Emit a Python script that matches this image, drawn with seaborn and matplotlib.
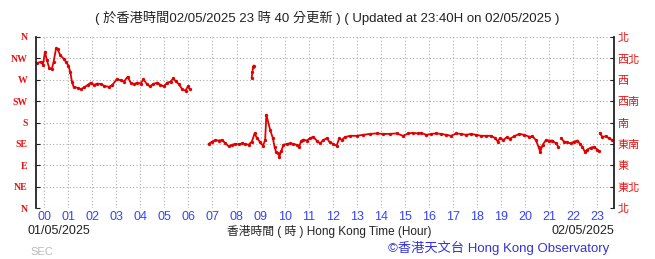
import matplotlib
matplotlib.use("Agg")
import matplotlib.pyplot as plt
import seaborn as sns
import pandas as pd
import numpy as np

# ---- data: hour of day (02/05/2025), wind direction (deg), segment id ----
hours = [
    -0.29, -0.12, -0.04, 0.04, 0.12, 0.22, 0.32, 0.40, 0.50, 0.57, 0.67, 0.82, 0.91,
    1.01, 1.09, 1.16, 1.23, 1.40, 1.53, 1.67, 1.81, 1.95, 2.08, 2.22, 2.36, 2.50,
    2.70, 2.84, 3.02, 3.19, 3.32, 3.47, 3.60, 3.74, 3.88, 4.02, 4.13, 4.26, 4.40,
    4.54, 4.71, 4.84, 4.98, 5.12, 5.26, 5.37, 5.47, 5.60, 5.74, 5.88, 5.98, 6.06,
]
degs = [
    305, 308, 302, 329, 311, 294, 292, 308, 336, 334, 322, 314, 308,
    300, 287, 266, 255, 253, 250, 254, 259, 264, 259, 262, 261, 257,
    255, 259, 271, 269, 266, 276, 264, 261, 264, 262, 271, 262, 256,
    261, 264, 259, 256, 264, 266, 273, 267, 261, 250, 247, 256, 250,
]
segs = [1] * len(hours)

iso_hours = [8.63, 8.66, 8.69, 8.71]
iso_degs = [274, 287, 297, 300]

hours2 = [
    6.84, 6.99, 7.12, 7.26, 7.40, 7.54, 7.67, 7.81, 7.95, 8.09, 8.23, 8.36, 8.50,
    8.64, 8.75, 8.85, 8.99, 9.10, 9.19, 9.24, 9.40, 9.51, 9.58, 9.64, 9.74, 9.78,
    9.86, 9.95, 10.09, 10.23, 10.36, 10.50, 10.60, 10.68, 10.78, 10.92, 11.06,
    11.19, 11.33, 11.47, 11.61, 11.75, 11.88, 12.02, 12.16, 12.27, 12.37, 12.50,
    12.71, 12.99, 13.26, 13.54, 13.82, 14.09, 14.37, 14.65, 14.92, 15.13, 15.33,
    15.54, 15.68, 15.89, 16.10, 16.30, 16.51, 16.72, 16.92, 17.13, 17.34, 17.54,
    17.75, 17.96, 18.16, 18.37, 18.58, 18.76, 18.85, 18.95, 19.09, 19.23, 19.37,
    19.54, 19.75, 19.96, 20.17, 20.30, 20.44, 20.55, 20.62, 20.72, 20.86, 20.99,
    21.13, 21.27, 21.38,
]
degs2 = [
    135, 140, 143, 142, 143, 136, 130, 133, 135, 134, 136, 135, 133,
    140, 157, 147, 138, 131, 143, 196, 164, 147, 129, 118, 115, 108,
    120, 133, 135, 136, 135, 133, 128, 141, 144, 142, 147,
    150, 142, 136, 143, 147, 138, 135, 131, 147, 143, 149,
    152, 152, 154, 156, 157, 156, 156, 157, 152, 157, 158,
    157, 158, 154, 156, 157, 156, 154, 152, 157, 156, 154,
    156, 154, 152, 152, 152, 147, 140, 147, 143, 149, 146,
    151, 156, 154, 150, 151, 143, 129, 118, 133, 143, 142,
    142, 136, 129,
]
hours3 = [21.48, 21.61, 21.75, 21.89, 22.03, 22.17, 22.27, 22.37, 22.48, 22.58,
          22.72, 22.86, 22.99, 23.06]
degs3 = [147, 140, 138, 136, 140, 142, 135, 129, 118, 123, 127, 129, 123, 120]
hours4 = [23.09, 23.20, 23.34, 23.48, 23.61]
degs4 = [158, 150, 151, 147, 143]

left_labels = ["N", "NE", "E", "SE", "S", "SW", "W", "NW", "N"]
right_labels = ["北", "東北", "東", "東南", "南", "西南", "西", "西北", "北"]
hour_labels = [f"{h:02d}" for h in range(24)]

df = pd.DataFrame({
    "hour": hours + iso_hours + hours2 + hours3 + hours4,
    "dir": degs + iso_degs + degs2 + degs3 + degs4,
    "seg": segs + [2] * len(iso_hours) + [3] * len(hours2) + [4] * len(hours3) + [5] * len(hours4),
})

# ---- figure ----
sns.set_style("white")
plt.rcParams["font.family"] = ["Liberation Sans", "Noto Sans CJK TC", "DejaVu Sans"]

fig = plt.figure(figsize=(6.55, 2.59), dpi=100)
ax = fig.add_axes([36 / 655, 1 - 208 / 259, (613.5 - 36) / 655, (208 - 37) / 259])

red = "#e00000"
sns.lineplot(data=df, x="hour", y="dir", units="seg", estimator=None,
             color=red, linewidth=1.3, marker="o", markersize=2.4,
             markeredgewidth=0, sort=False, ax=ax, legend=False)

ax.set_xlim(-1 / 3, 23 + 2 / 3)
ax.set_ylim(0, 360)
ax.set_xlabel("")
ax.set_ylabel("")

ax.set_xticks(range(24))
ax.set_xticklabels(hour_labels)
ax.set_yticks(np.arange(0, 361, 45))
ax.set_yticklabels(left_labels)

ax.grid(True, color="#aaaaaa", linestyle=(0, (1.0, 2.0)), linewidth=0.8)
for s in ["top", "bottom"]:
    ax.spines[s].set_visible(False)
for s in ["left", "right"]:
    ax.spines[s].set_visible(True)
    ax.spines[s].set_color("#222222")
    ax.spines[s].set_linewidth(1.3)

ax.tick_params(axis="x", colors="#3344ff", labelsize=9, length=3, direction="in",
               pad=2, color="#666666")
ax.tick_params(axis="y", colors="#e81010", labelsize=7, length=3, direction="in",
               pad=6, color="#222222")
for lbl in ax.get_yticklabels():
    lbl.set_family(["Liberation Serif", "DejaVu Serif"])
    lbl.set_fontweight("bold")

ax2 = ax.twinx()
ax2.set_ylim(0, 360)
ax2.set_yticks(np.arange(0, 361, 45))
ax2.set_yticklabels(right_labels, family=["Noto Sans CJK TC", "DejaVu Sans"])
ax2.tick_params(axis="y", colors="#e81010", labelsize=8, length=3, direction="in", pad=3,
                color="#222222")
for s in ["top", "bottom", "left", "right"]:
    ax2.spines[s].set_visible(False)
ax2.grid(False)

fig.text(0.5, 1 - 18 / 259,
         "( 於香港時間02/05/2025 23 時 40 分更新 ) ( Updated at 23:40H on 02/05/2025 )",
         ha="center", va="center", fontsize=9.5, color="#222222")
fig.text(28 / 655, 1 - 231 / 259, "01/05/2025", ha="left", va="center",
         fontsize=9, color="#222222")
fig.text(329 / 655, 1 - 231 / 259, "香港時間 ( 時 ) Hong Kong Time (Hour)",
         ha="center", va="center", fontsize=8.5, color="#222222")
fig.text(614 / 655, 1 - 231 / 259, "02/05/2025", ha="right", va="center",
         fontsize=9, color="#222222")
fig.text(609 / 655, 1 - 248 / 259, "©香港天文台 Hong Kong Observatory", ha="right",
         va="center", fontsize=9.5, color="#3333dd")
fig.text(30 / 655, 1 - 252 / 259, "SEC", ha="left", va="center", fontsize=8,
         color="#bbbbbb")

fig.savefig("out.png", dpi=100)
